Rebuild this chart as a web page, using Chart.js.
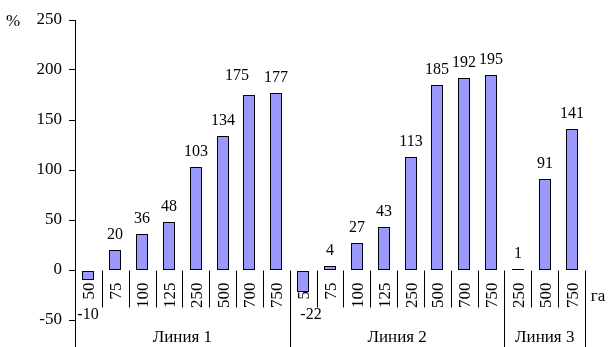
<!DOCTYPE html>
<html>
<head>
<meta charset="utf-8">
<script src="https://cdn.jsdelivr.net/npm/chart.js@4.4.1/dist/chart.umd.min.js"></script>
<style>
  html, body { margin: 0; padding: 0; background: #fff; }
  #wrap { width: 608px; height: 347px; }
</style>
</head>
<body>
<div id="wrap"><canvas id="myChart" width="608" height="347"></canvas></div>
<script>
// Datos del gráfico
const grupos = ['Линия 1', 'Линия 2', 'Линия 3'];
const hectareas1 = ['50', '75', '100', '125', '250', '500', '700', '750'];
const hectareas2 = ['50', '75', '100', '125', '250', '500', '700', '750'];
const hectareas3 = ['250', '500', '750'];
const valores1 = [-10, 20, 36, 48, 103, 134, 175, 177];
const valores2 = [-22, 4, 27, 43, 113, 185, 192, 195];
const valores3 = [1, 91, 141];
const ticksY = [-50, 0, 50, 100, 150, 200, 250];

// Unir los grupos para la escala de categorías
const etiquetas = [...hectareas1, ...hectareas2, ...hectareas3];
const valores = [...valores1, ...valores2, ...valores3];
const tamGrupos = [hectareas1.length, hectareas2.length, hectareas3.length];

const FUENTE = '"Liberation Serif", "Times New Roman", serif';

// Límites entre grupos (índices de categoría)
const limites = [0];
tamGrupos.forEach(n => limites.push(limites[limites.length - 1] + n));

function linea(ctx, x1, y1, x2, y2) {
  ctx.beginPath();
  ctx.moveTo(x1, y1);
  ctx.lineTo(x2, y2);
  ctx.stroke();
}

// Dibuja el eje de categorías a mano (rótulos girados, separadores y grupos)
const ejeCategorias = {
  id: 'ejeCategorias',
  beforeDatasetsDraw(chart) {
    const ctx = chart.ctx;
    const x = chart.scales.x;
    const y = chart.scales.y;
    const y0 = Math.round(y.getPixelForValue(0)) + 0.5;
    const medio = (x.getPixelForValue(1) - x.getPixelForValue(0)) / 2;

    // ajustar las barras a píxeles enteros para que el borde quede nítido
    chart.getDatasetMeta(0).data.forEach(bar => {
      const w = Math.round(bar.width);
      bar.width = w;
      bar.x = Math.round(bar.x - w / 2) + w / 2;
      bar.y = Math.round(bar.y);
      bar.base = Math.round(bar.base);
    });

    ctx.save();
    ctx.strokeStyle = '#000';
    ctx.lineWidth = 1;

    // separadores de categorías
    for (let i = 0; i <= etiquetas.length; i++) {
      const px = Math.round(x.getPixelForValue(i) - medio) + 0.5;
      const largo = limites.includes(i) ? chart.height : y0 + 37;
      linea(ctx, px, y0, px, largo);
    }

    // rótulos de hectáreas (girados)
    ctx.fillStyle = '#000';
    ctx.font = '17px ' + FUENTE;
    ctx.textAlign = 'right';
    ctx.textBaseline = 'alphabetic';
    etiquetas.forEach((et, i) => {
      ctx.save();
      ctx.translate(x.getPixelForValue(i), y0 + 12);
      ctx.rotate(-Math.PI / 2);
      ctx.fillText(et, 0, 6);
      ctx.restore();
    });

    // nombres de las líneas
    ctx.textAlign = 'center';
    grupos.forEach((g, k) => {
      const a = x.getPixelForValue(limites[k]) - medio;
      const b = x.getPixelForValue(limites[k + 1]) - medio;
      ctx.fillText(g, (a + b) / 2, chart.height - 5);
    });

    // unidades
    ctx.fillText('%', 13, y.getPixelForValue(250) + 6);
    ctx.fillText('га', 598, y0 + 30);
    ctx.restore();
  },
  afterDatasetsDraw(chart) {
    const ctx = chart.ctx;
    const y = chart.scales.y;
    const meta = chart.getDatasetMeta(0);
    ctx.save();
    ctx.fillStyle = '#000';
    ctx.font = '16px ' + FUENTE;
    ctx.textAlign = 'center';
    ctx.textBaseline = 'alphabetic';
    meta.data.forEach((bar, i) => {
      const v = valores[i];
      if (v >= 0) {
        // la etiqueta 175 está corrida a la izquierda en el original
        const dx = v === 175 ? -12 : 0;
        const dy = v === 175 ? -4 : 0;
        ctx.fillText(String(v), bar.x + dx, bar.y - 11 + dy);
      } else {
        const dx = v === -22 ? 8 : 0;
        ctx.fillText(String(v), bar.x + dx, y.getPixelForValue(-50) - 1);
      }
    });
    ctx.restore();
  }
};

const ctx = document.getElementById('myChart').getContext('2d');
const chart = new Chart(ctx, {
  type: 'bar',
  data: {
    labels: etiquetas,
    datasets: [{
      data: valores,
      backgroundColor: '#9999FF',
      borderColor: '#000000',
      borderWidth: 1,
      borderSkipped: false,
      inflateAmount: 0,
      barPercentage: 0.46,
      categoryPercentage: 1
    }]
  },
  options: {
    responsive: false,
    devicePixelRatio: 1,
    animation: false,
    layout: { padding: { top: 20, bottom: 27, left: 0, right: 23 } },
    plugins: {
      legend: { display: false },
      tooltip: { enabled: false }
    },
    scales: {
      x: { display: false },
      y: {
        min: -50,
        max: 250,
        afterBuildTicks: (scale) => { scale.ticks = ticksY.map(v => ({ value: v })); },
        afterFit: (scale) => { scale.width = 75; },
        border: { display: true, color: '#000', width: 1 },
        grid: { drawOnChartArea: false, drawTicks: true, tickLength: 6, color: '#000' },
        ticks: {
          color: '#000',
          padding: 7,
          font: { family: FUENTE, size: 17 }
        }
      }
    }
  },
  plugins: [ejeCategorias]
});
</script>
</body>
</html>
